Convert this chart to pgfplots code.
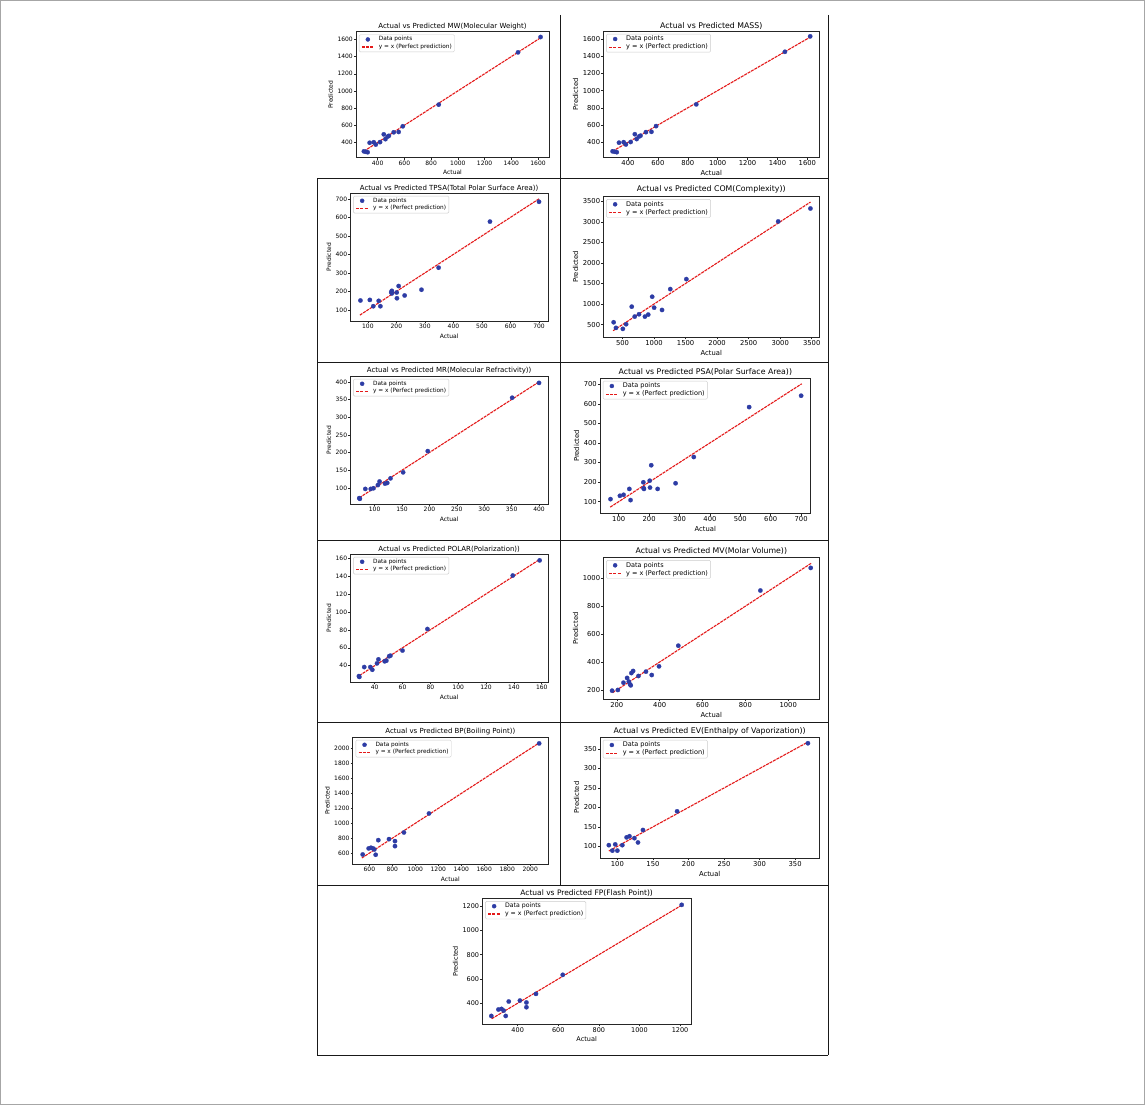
\documentclass[border=0pt]{standalone}
\usepackage{pgfplots}
\pgfplotsset{compat=1.18}
\usepackage{fontspec}
\setmainfont{DejaVu Sans}
\definecolor{dotblue}{RGB}{45,60,165}
\definecolor{linered}{RGB}{228,25,25}
\pgfplotsset{
  every axis title shift=0pt,
  panel/.style={
    scale only axis,
    /pgf/number format/assume math mode=true,
    /pgf/number format/1000 sep={},
    axis line style={black!85, line width=0.6pt},
    tick align=outside, major tick length=2pt,
    tick style={black!85, line width=0.5pt},
    tick pos=left,
    xlabel={Actual}, ylabel={Predicted},
    enlargelimits=false,
    legend cell align=left,
    legend style={at={(0,1)}, anchor=north west, xshift=2.9pt, yshift=-2.9pt,
      draw=black!20, rounded corners=1.2pt, inner xsep=2pt, inner ysep=1pt,
      row sep=0.4pt, nodes={inner sep=0.7pt},
      /tikz/every odd column/.append style={column sep=3.5pt}},
    title style={at={(0.5,1)}, anchor=south, inner sep=0pt},
    xticklabel style={inner sep=1pt},
    yticklabel style={inner sep=1pt},
  },
  colL/.style={panel,
    title style={font=\fontsize{7}{8}\selectfont, yshift=1.5pt},
    tick label style={font=\fontsize{6}{7}\selectfont},
    label style={font=\fontsize{6}{7}\selectfont},
    legend style={font=\fontsize{5.8}{7}\selectfont}},
  colR/.style={panel,
    title style={font=\fontsize{7.8}{9}\selectfont, yshift=2.5pt},
    tick label style={font=\fontsize{6.8}{8}\selectfont},
    label style={font=\fontsize{6.8}{8}\selectfont},
    legend style={font=\fontsize{6.5}{8}\selectfont}},
  colF/.style={panel,
    title style={font=\fontsize{7.5}{9}\selectfont, yshift=1.5pt},
    tick label style={font=\fontsize{6.5}{8}\selectfont},
    label style={font=\fontsize{6.5}{8}\selectfont},
    legend style={font=\fontsize{6.2}{8}\selectfont}},
  sc/.style={only marks, mark=*, mark size=2.2pt, color=dotblue,
    mark options={draw=dotblue, fill=dotblue, line width=0.2pt},
    legend image code/.code={\fill[dotblue] (6pt,0pt) circle[radius=2pt];}},
  ln/.style={color=linered, draw=linered, line width=1.1pt, dash pattern=on 3pt off 0.9pt, no marks,
    legend image code/.code={\draw[linered, line width=1.5pt, dash pattern=on 3pt off 1.2pt] (0pt,0pt) -- (12pt,0pt);}},
}
\begin{document}
\begin{tikzpicture}
\useasboundingbox (0pt,0pt) rectangle (1145pt,-1105pt);
\fill[white] (0pt,0pt) rectangle (1145pt,-1105pt);
\draw[black!35, line width=1.2pt] (0.6pt,-0.6pt) rectangle (1144.4pt,-1104.4pt);
\begin{scope}[black!90, line width=1pt]
\draw (560pt,-15pt) -- (560pt,-885pt);
\draw (828pt,-15pt) -- (828pt,-1055pt);
\draw (317pt,-178pt) -- (317pt,-1055pt);
\draw (317pt,-178pt) -- (828pt,-178pt);
\draw (317pt,-362pt) -- (828pt,-362pt);
\draw (317pt,-540pt) -- (828pt,-540pt);
\draw (317pt,-722pt) -- (828pt,-722pt);
\draw (317pt,-885pt) -- (828pt,-885pt);
\draw (317pt,-1055pt) -- (828pt,-1055pt);
\end{scope}

% 1 MW
\begin{axis}[colL, at={(356pt,-157.7pt)}, anchor=south west, width=193pt, height=126pt,
  xmin=238, xmax=1682, ymin=222, ymax=1690,
  xtick={400,600,...,1600}, ytick={400,600,...,1600},
  title={Actual vs Predicted MW(Molecular Weight)}]
\addplot[sc] coordinates {(297,296) (312,291) (325,286) (340,396) (371,402) (386,375) (418,404) (446,494) (458,438) (475,468) (484,477) (520,518) (557,522) (588,588) (857,840) (1450,1449) (1619,1628)};
\addlegendentry{Data points}
\addplot[ln] coordinates {(297,297) (1619,1619)};
\addlegendentry{y = x (Perfect prediction)}
\end{axis}

% 2 MASS
\begin{axis}[colR, at={(603.3pt,-157.7pt)}, anchor=south west, width=216pt, height=126.7pt,
  xmin=235, xmax=1680, ymin=222, ymax=1690,
  xtick={400,600,...,1600}, ytick={400,600,...,1600},
  title style={yshift=-1pt},
  title={Actual vs Predicted MASS)}]
\addplot[sc] coordinates {(297,296) (312,291) (325,286) (340,396) (371,402) (386,375) (418,404) (446,494) (458,438) (475,468) (484,477) (520,518) (557,522) (588,588) (857,840) (1450,1449) (1619,1628)};
\addlegendentry{Data points}
\addplot[ln] coordinates {(297,297) (1619,1619)};
\addlegendentry{y = x (Perfect prediction)}
\end{axis}

% 3 TPSA
\begin{axis}[colL, at={(350.3pt,-321.3pt)}, anchor=south west, width=197.7pt, height=128.3pt,
  xmin=38.5, xmax=731.5, ymin=38.5, ymax=731.5,
  xtick={100,200,...,700}, ytick={100,200,...,700},
  title={Actual vs Predicted TPSA(Total Polar Surface Area))}]
\addplot[sc] coordinates {(74,151) (107,154) (119,120) (138,149) (144,120) (182,196) (184,203) (184,189) (201,194) (202,163) (208,229) (229,178) (288,209) (348,328) (528,577) (700,684)};
\addlegendentry{Data points}
\addplot[ln] coordinates {(72,72) (702,702)};
\addlegendentry{y = x (Perfect prediction)}
\end{axis}

% 4 COM
\begin{axis}[colR, at={(603.3pt,-337.3pt)}, anchor=south west, width=216pt, height=141pt,
  xmin=195, xmax=3620, ymin=190, ymax=3620,
  xtick={500,1000,...,3500}, ytick={500,1000,...,3500},
  title={Actual vs Predicted COM(Complexity))}]
\addplot[sc] coordinates {(359,556) (396,419) (505,395) (557,508) (646,935) (693,694) (761,750) (855,694) (907,742) (970,1177) (1001,911) (1126,855) (1257,1363) (1512,1605) (2968,3008) (3479,3323)};
\addlegendentry{Data points}
\addplot[ln] coordinates {(350,350) (3480,3480)};
\addlegendentry{y = x (Perfect prediction)}
\end{axis}

% 5 MR
\begin{axis}[colL, at={(350.3pt,-504.3pt)}, anchor=south west, width=197.7pt, height=128.3pt,
  xmin=55.6, xmax=416.4, ymin=53.5, ymax=416.5,
  xtick={100,150,...,400}, ytick={100,150,...,400},
  title={Actual vs Predicted MR(Molecular Refractivity))}]
\addplot[sc] coordinates {(72,71) (73,69) (83,97) (93,97) (98,99) (106,108) (109,118) (119,112) (123,114) (129,127) (152,144) (197,204) (351,355) (400,397)};
\addlegendentry{Data points}
\addplot[ln] coordinates {(72,72) (400,400)};
\addlegendentry{y = x (Perfect prediction)}
\end{axis}

% 6 PSA
\begin{axis}[colR, at={(600pt,-513.7pt)}, anchor=south west, width=210.7pt, height=135.7pt,
  xmin=38.5, xmax=731.5, ymin=38.5, ymax=731.5,
  xtick={100,200,...,700}, ytick={100,200,...,700},
  title={Actual vs Predicted PSA(Polar Surface Area))}]
\addplot[sc] coordinates {(73,113) (104,130) (116,135) (135,165) (139,108) (181,199) (182,169) (183,165) (202,207) (203,172) (207,286) (228,165) (287,194) (347,328) (529,583) (700,641)};
\addlegendentry{Data points}
\addplot[ln] coordinates {(72,72) (702,702)};
\addlegendentry{y = x (Perfect prediction)}
\end{axis}

% 7 POLAR
\begin{axis}[colL, at={(350.3pt,-682.3pt)}, anchor=south west, width=197.7pt, height=128.3pt,
  xmin=22.5, xmax=164.5, ymin=21.5, ymax=164.5,
  xtick={40,60,...,160}, ytick={40,60,...,160},
  title={Actual vs Predicted POLAR(Polarization))}]
\addplot[sc] coordinates {(28.7,28.4) (29,27.5) (32.5,38.5) (36.9,38.5) (38.3,35.5) (41.7,42.6) (42.7,47.1) (47.2,44.9) (48.4,45.6) (50.4,50.5) (51.3,51.2) (60,56.9) (77.9,80.9) (139.2,140.5) (158.5,157.4)};
\addlegendentry{Data points}
\addplot[ln] coordinates {(29,29) (158.5,158.5)};
\addlegendentry{y = x (Perfect prediction)}
\end{axis}

% 8 MV
\begin{axis}[colR, at={(603.3pt,-699.3pt)}, anchor=south west, width=216pt, height=142pt,
  xmin=137, xmax=1145, ymin=133, ymax=1150,
  xtick={200,400,...,1000}, ytick={200,400,...,1000},
  title={Actual vs Predicted MV(Molar Volume))}]
\addplot[sc] coordinates {(178,195) (205,200) (231,252) (248,286) (256,260) (262,240) (265,233) (268,321) (276,336) (301,300) (336,331) (363,307) (397,369) (487,517) (870,912) (1105,1074)};
\addlegendentry{Data points}
\addplot[ln] coordinates {(180,180) (1108,1108)};
\addlegendentry{y = x (Perfect prediction)}
\end{axis}

% 9 BP
\begin{axis}[colL, at={(352.7pt,-864.3pt)}, anchor=south west, width=195.3pt, height=127.3pt,
  xmin=455, xmax=2155, ymin=450, ymax=2157,
  xtick={600,800,...,2000}, ytick={600,800,...,2000},
  title={Actual vs Predicted BP(Boiling Point))}]
\addplot[sc] coordinates {(542,582) (594,663) (614,672) (632,663) (643,649) (655,578) (678,774) (771,788) (823,761) (823,694) (901,877) (1119,1132) (2078,2071)};
\addlegendentry{Data points}
\addplot[ln] coordinates {(535,535) (2078,2078)};
\addlegendentry{y = x (Perfect prediction)}
\end{axis}

% 10 EV
\begin{axis}[colR, at={(600pt,-858pt)}, anchor=south west, width=219.3pt, height=121pt,
  xmin=75.6, xmax=384, ymin=70, ymax=381,
  xtick={100,150,...,350}, ytick={100,150,...,350},
  title style={yshift=-1pt},
  title={Actual vs Predicted EV(Enthalpy of Vaporization))}]
\addplot[sc] coordinates {(88,103) (93,89) (97,105) (100,89) (107,103) (113,123) (117,126) (124,121) (129,110) (136,142) (184,190) (368,365)};
\addlegendentry{Data points}
\addplot[ln] coordinates {(88,88) (367,367)};
\addlegendentry{y = x (Perfect prediction)}
\end{axis}

% 11 FP
\begin{axis}[colF, at={(482.3pt,-1024.3pt)}, anchor=south west, width=208.7pt, height=126pt,
  xmin=225.6, xmax=1254, ymin=226, ymax=1265,
  xtick={400,600,...,1200}, ytick={400,600,...,1200},
  title={Actual vs Predicted FP(Flash Point))}]
\addplot[sc] coordinates {(270,295) (305,348) (320,353) (331,339) (341,295) (356,414) (411,422) (443,406) (443,367) (490,477) (622,634) (1208,1211)};
\addlegendentry{Data points}
\addplot[ln] coordinates {(272,272) (1210,1210)};
\addlegendentry{y = x (Perfect prediction)}
\end{axis}
\end{tikzpicture}
\end{document}
